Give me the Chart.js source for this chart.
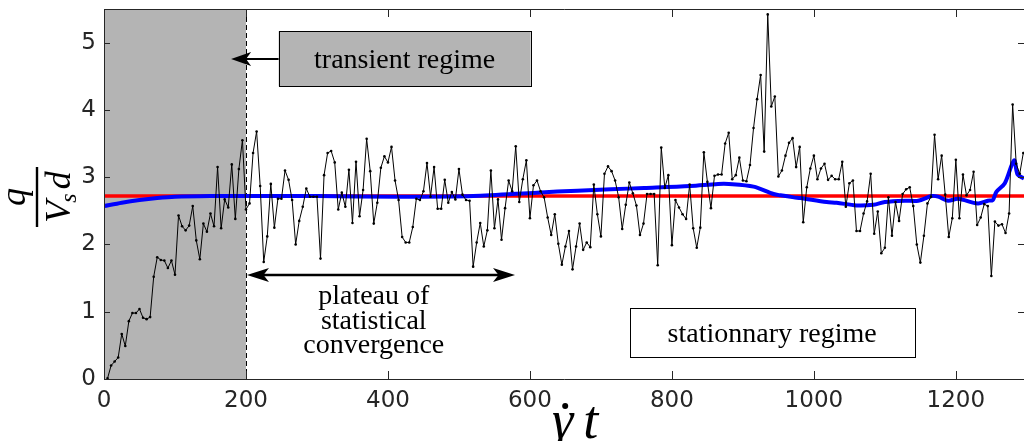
<!DOCTYPE html>
<html>
<head>
<meta charset="utf-8">
<script src="https://cdn.jsdelivr.net/npm/chart.js@4.4.1/dist/chart.umd.min.js"></script>
<style>
    html, body { margin: 0; padding: 0; background: #fff; overflow: hidden; }
    canvas { display: block; }
</style>
</head>
<body>
<canvas id="chart" width="1028" height="441"></canvas>
<script>
// sampled flux q/(Vs d) vs strain, one sample every 5 units
const strainX = [
    5, 10, 15, 20, 25, 30, 35, 40, 45, 50, 55, 60, 65, 70, 75, 80, 85, 90, 95, 100,
    105, 110, 115, 120, 125, 130, 135, 140, 145, 150, 155, 160, 165, 170, 175, 180, 185, 190, 195, 200,
    205, 210, 215, 220, 225, 230, 235, 240, 245, 250, 255, 260, 265, 270, 275, 280, 285, 290, 295, 300,
    305, 310, 315, 320, 325, 330, 335, 340, 345, 350, 355, 360, 365, 370, 375, 380, 385, 390, 395, 400,
    405, 410, 415, 420, 425, 430, 435, 440, 445, 450, 455, 460, 465, 470, 475, 480, 485, 490, 495, 500,
    505, 510, 515, 520, 525, 530, 535, 540, 545, 550, 555, 560, 565, 570, 575, 580, 585, 590, 595, 600,
    605, 610, 615, 620, 625, 630, 635, 640, 645, 650, 655, 660, 665, 670, 675, 680, 685, 690, 695, 700,
    705, 710, 715, 720, 725, 730, 735, 740, 745, 750, 755, 760, 765, 770, 775, 780, 785, 790, 795, 800,
    805, 810, 815, 820, 825, 830, 835, 840, 845, 850, 855, 860, 865, 870, 875, 880, 885, 890, 895, 900,
    905, 910, 915, 920, 925, 930, 935, 940, 945, 950, 955, 960, 965, 970, 975, 980, 985, 990, 995, 1000,
    1005, 1010, 1015, 1020, 1025, 1030, 1035, 1040, 1045, 1050, 1055, 1060, 1065, 1070, 1075, 1080, 1085, 1090, 1095, 1100,
    1105, 1110, 1115, 1120, 1125, 1130, 1135, 1140, 1145, 1150, 1155, 1160, 1165, 1170, 1175, 1180, 1185, 1190, 1195, 1200,
    1205, 1210, 1215, 1220, 1225, 1230, 1235, 1240, 1245, 1250, 1255, 1260, 1265, 1270, 1275, 1280, 1285, 1290, 1295
];
const fluxY = [
    0.01, 0.20, 0.26, 0.32, 0.67, 0.49, 0.86, 0.98, 0.98, 1.04, 0.91, 0.89, 0.92, 1.52, 1.81, 1.77, 1.76, 1.65, 1.76, 1.55,
    2.43, 2.27, 2.21, 2.28, 2.57, 2.06, 1.78, 2.31, 2.19, 2.46, 2.27, 3.15, 2.24, 2.67, 2.55, 3.19, 2.38, 3.12, 3.55, 2.52,
    2.61, 3.36, 3.68, 2.87, 1.74, 2.12, 2.90, 2.25, 2.68, 2.68, 3.10, 2.96, 2.66, 2.00, 2.35, 2.56, 2.83, 2.71, 2.71, 2.71,
    1.79, 3.03, 3.36, 3.39, 3.22, 2.52, 2.77, 2.56, 3.11, 2.32, 3.23, 2.42, 2.81, 3.57, 3.09, 2.31, 2.62, 3.14, 3.31, 3.22,
    3.45, 2.95, 2.66, 2.11, 2.03, 2.03, 2.26, 2.68, 2.66, 2.79, 3.21, 2.71, 3.15, 2.53, 2.53, 2.96, 2.62, 2.78, 2.67, 3.12,
    2.74, 2.66, 2.65, 1.67, 2.03, 2.32, 1.97, 2.21, 3.10, 2.24, 2.67, 2.07, 2.54, 2.95, 2.79, 3.46, 2.63, 2.97, 3.25, 2.39,
    2.88, 2.95, 2.79, 2.70, 2.40, 2.14, 2.45, 2.01, 1.70, 1.97, 2.20, 1.63, 1.97, 2.31, 1.92, 2.03, 1.96, 2.89, 2.45, 2.12,
    3.05, 3.16, 3.09, 2.95, 2.70, 2.23, 2.59, 2.92, 2.76, 2.58, 2.14, 2.31, 2.75, 2.75, 2.75, 1.69, 3.44, 2.84, 3.03, 1.99,
    2.66, 2.55, 2.45, 2.38, 2.89, 2.24, 1.95, 2.25, 3.37, 2.93, 2.54, 3.02, 3.04, 3.04, 3.50, 3.66, 2.97, 3.03, 3.29, 2.95,
    2.94, 3.18, 3.73, 4.16, 4.52, 3.38, 5.42, 4.05, 4.20, 3.01, 3.10, 3.32, 3.51, 3.58, 3.15, 3.45, 2.33, 2.85, 3.13, 3.32,
    2.97, 3.13, 3.20, 2.96, 3.02, 2.97, 2.97, 3.23, 2.56, 2.91, 2.95, 2.20, 2.20, 2.46, 2.64, 3.05, 2.16, 2.49, 1.87, 1.95,
    2.70, 2.13, 2.63, 2.35, 2.75, 2.82, 2.85, 2.57, 2.00, 1.73, 2.13, 2.61, 2.71, 3.63, 2.97, 3.32, 2.74, 2.11, 2.39, 3.26,
    2.39, 3.04, 2.73, 2.81, 3.08, 2.29, 2.40, 2.60, 2.57, 1.53, 2.34, 2.28, 2.30, 2.17, 2.46, 4.08, 3.20, 3.05, 3.36
];

// running average (blue)
const meanX = [0, 25, 50, 75, 100, 150, 200, 300, 415, 520, 610, 667, 714, 761, 826, 865, 880, 915, 943, 953,
    972, 981, 1018, 1032, 1060, 1084, 1100, 1128, 1147, 1166, 1175, 1189, 1203, 1231, 1245, 1252, 1257, 1269, 1282, 1287, 1296];
const meanY = [2.57, 2.62, 2.66, 2.69, 2.71, 2.72, 2.72, 2.72, 2.71, 2.72, 2.77, 2.80, 2.82, 2.84, 2.87, 2.90, 2.90, 2.86, 2.75, 2.73,
    2.70, 2.69, 2.63, 2.62, 2.58, 2.59, 2.63, 2.65, 2.65, 2.72, 2.71, 2.65, 2.68, 2.61, 2.65, 2.66, 2.78, 2.91, 3.25, 3.04, 2.98];

// plateau value (red)
const plateauX = [0, 1296];
const plateauY = [2.72, 2.72];

const xTicks = [0, 200, 400, 600, 800, 1000, 1200];
const yTicks = [0, 1, 2, 3, 4, 5];
const transientEnd = 200;

const SERIF = '"Liberation Serif", "DejaVu Serif", serif';
const AXIS_GRAY = '#262626';

function pts(xs, ys) { return xs.map((x, i) => ({ x, y: ys[i] })); }

function arrowHead(ctx, tipX, tipY, dir, len, half) {
    // dir = -1 points left, +1 points right
    ctx.beginPath();
    ctx.moveTo(tipX, tipY);
    ctx.lineTo(tipX - dir * len, tipY - half);
    ctx.lineTo(tipX - dir * len * 0.75, tipY);
    ctx.lineTo(tipX - dir * len, tipY + half);
    ctx.closePath();
    ctx.fill();
}

// drop the label overhang padding chart.js adds so the plot box sits where it should
function noOverhang(s) {
    s.paddingTop = 0; s.paddingBottom = 0;
    s.paddingLeft = 0; s.paddingRight = 0;
}

const decorations = {
    id: 'decorations',
    beforeDatasetsDraw(chart) {
        const { ctx, chartArea: a, scales: { x } } = chart;
        const xr = x.getPixelForValue(transientEnd);
        ctx.save();
        ctx.fillStyle = '#b4b4b4';
        ctx.fillRect(a.left, a.top, xr - a.left, a.bottom - a.top);
        ctx.strokeStyle = '#000';
        ctx.lineWidth = 1;
        ctx.setLineDash([5, 3]);
        ctx.beginPath();
        ctx.moveTo(Math.round(xr) + 0.5, a.top);
        ctx.lineTo(Math.round(xr) + 0.5, a.bottom);
        ctx.stroke();
        ctx.restore();
    },
    afterDraw(chart) {
        const { ctx, chartArea: a, scales: { x, y } } = chart;
        const px = v => x.getPixelForValue(v);
        const py = v => y.getPixelForValue(v);
        ctx.save();

        // axes box and inward ticks
        ctx.strokeStyle = AXIS_GRAY;
        ctx.lineWidth = 1;
        ctx.beginPath();
        ctx.moveTo(a.left + 0.5, a.top + 0.5);
        ctx.lineTo(a.left + 0.5, a.bottom + 0.5);
        ctx.lineTo(a.right, a.bottom + 0.5);
        ctx.moveTo(a.left + 0.5, a.top + 0.5);
        ctx.lineTo(a.right, a.top + 0.5);
        xTicks.forEach(v => {
            const p = Math.round(px(v)) + 0.5;
            ctx.moveTo(p, a.bottom); ctx.lineTo(p, a.bottom - 8);
            ctx.moveTo(p, a.top); ctx.lineTo(p, a.top + 8);
        });
        yTicks.forEach(v => {
            const p = Math.round(py(v)) + 0.5;
            ctx.moveTo(a.left, p); ctx.lineTo(a.left + 6, p);
            ctx.moveTo(a.right, p); ctx.lineTo(a.right - 6, p);
        });
        ctx.stroke();

        ctx.fillStyle = '#000';
        ctx.strokeStyle = '#000';
        ctx.font = '28px ' + SERIF;
        ctx.textAlign = 'center';
        ctx.textBaseline = 'alphabetic';

        // transient regime box + arrow
        let bx0 = px(246), bx1 = px(601), by0 = py(5.17), by1 = py(4.35);
        ctx.fillStyle = '#b4b4b4';
        ctx.fillRect(bx0, by0, bx1 - bx0, by1 - by0);
        ctx.lineWidth = 1;
        ctx.strokeRect(Math.round(bx0) + 0.5, Math.round(by0) + 0.5, Math.round(bx1 - bx0), Math.round(by1 - by0));
        ctx.fillStyle = '#000';
        ctx.fillText('transient regime', (bx0 + bx1) / 2, (by0 + by1) / 2 + 9);
        const ay = py(4.755);
        ctx.lineWidth = 2;
        ctx.beginPath();
        ctx.moveTo(bx0, ay); ctx.lineTo(px(188), ay);
        ctx.stroke();
        arrowHead(ctx, px(179), ay, -1, 20, 7);

        // plateau double arrow
        const py2 = py(1.545);
        const x0 = px(transientEnd) + 1, x1 = px(579);
        ctx.lineWidth = 2.5;
        ctx.beginPath();
        ctx.moveTo(x0 + 10, py2); ctx.lineTo(x1 - 10, py2);
        ctx.stroke();
        arrowHead(ctx, x0, py2, -1, 22, 7);
        arrowHead(ctx, x1, py2, 1, 22, 7);

        const tx = px(380);
        ctx.fillText('plateau of', tx, 304);
        ctx.fillText('statistical', tx, 329);
        ctx.fillText('convergence', tx, 353);

        // stationnary regime box
        bx0 = px(740.4); bx1 = px(1142); by0 = py(1.055); by1 = py(0.327);
        ctx.fillStyle = '#fff';
        ctx.fillRect(bx0, by0, bx1 - bx0, by1 - by0);
        ctx.lineWidth = 1;
        ctx.strokeRect(Math.round(bx0) + 0.5, Math.round(by0) + 0.5, Math.round(bx1 - bx0), Math.round(by1 - by0));
        ctx.fillStyle = '#000';
        ctx.fillText('stationnary regime', (bx0 + bx1) / 2, (by0 + by1) / 2 + 9);

        // y title: q / (V_s d), rotated
        ctx.save();
        ctx.translate(37, 197);
        ctx.rotate(-Math.PI / 2);
        ctx.font = 'italic 36px ' + SERIF;
        ctx.textAlign = 'center';
        ctx.fillText('q', 0, -12);
        ctx.fillRect(-30, -1.2, 60, 2.4);
        const big = 'italic 36px ' + SERIF, small = 'italic 24px ' + SERIF;
        ctx.font = big; const wV = ctx.measureText('V').width, wD = ctx.measureText('d').width;
        ctx.font = small; const wS = ctx.measureText('s').width;
        let cx = -(wV + wS + wD + 2) / 2;
        ctx.textAlign = 'left';
        ctx.font = big; ctx.fillText('V', cx, 33); cx += wV - 2;
        ctx.font = small; ctx.fillText('s', cx, 39); cx += wS + 4;
        ctx.font = big; ctx.fillText('d', cx, 33);
        ctx.restore();

        // x title: gamma-dot t
        ctx.font = 'italic 54px ' + SERIF;
        ctx.textAlign = 'left';
        const gx = 552;
        const wg = ctx.measureText('γ').width;
        ctx.fillText('γ', gx, 438);
        ctx.fillText('t', gx + wg + 10, 438);
        ctx.beginPath();
        ctx.arc(gx + wg * 0.62, 406, 3, 0, Math.PI * 2);
        ctx.fill();

        ctx.restore();
    }
};

new Chart(document.getElementById('chart'), {
    type: 'line',
    data: {
        datasets: [
            {
                data: pts(strainX, fluxY),
                borderColor: '#000',
                borderWidth: 1,
                pointRadius: 1.3,
                pointBackgroundColor: '#000',
                pointBorderWidth: 0,
                tension: 0,
                order: 0,
            },
            {
                data: pts(meanX, meanY),
                borderColor: '#0000ff',
                borderWidth: 4,
                pointRadius: 0,
                tension: 0.3,
                order: 1,
            },
            {
                data: pts(plateauX, plateauY),
                borderColor: '#ff0000',
                borderWidth: 3.5,
                pointRadius: 0,
                order: 2,
            },
        ],
    },
    options: {
        responsive: false,
        animation: false,
        devicePixelRatio: 1,
        layout: { padding: { top: 9, right: 0, left: 0, bottom: 0 } },
        plugins: { legend: { display: false }, tooltip: { enabled: false } },
        scales: {
            x: {
                type: 'linear',
                min: 0,
                max: 1296,
                afterFit: s => { s.height = 62; noOverhang(s); },
                afterBuildTicks: s => { s.ticks = xTicks.map(v => ({ value: v })); },
                ticks: {
                    color: AXIS_GRAY,
                    font: { family: 'DejaVu Sans', size: 23 },
                    padding: 8,
                    maxRotation: 0,
                    callback: v => String(v),
                },
                grid: { display: false, drawTicks: false },
                border: { display: false },
            },
            y: {
                min: 0,
                max: 5.5,
                afterFit: s => { s.width = 104; noOverhang(s); },
                afterBuildTicks: s => { s.ticks = yTicks.map(v => ({ value: v })); },
                ticks: {
                    color: AXIS_GRAY,
                    font: { family: 'DejaVu Sans', size: 23 },
                    padding: 8,
                    callback: v => String(v),
                },
                grid: { display: false, drawTicks: false },
                border: { display: false },
            },
        },
    },
    plugins: [decorations],
});
</script>
</body>
</html>
